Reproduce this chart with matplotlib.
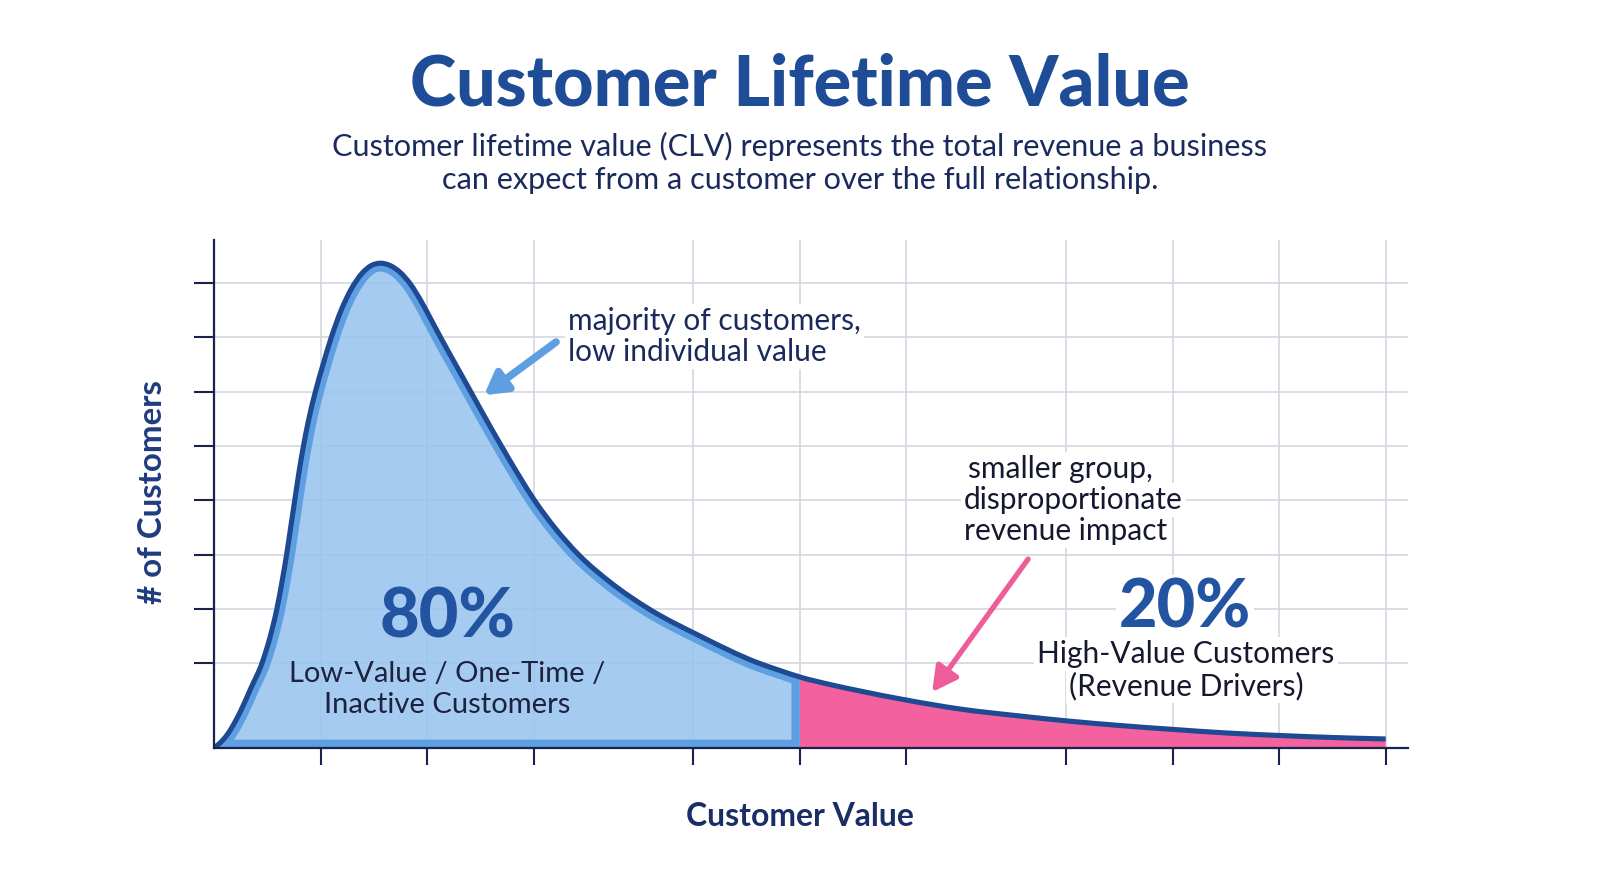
import matplotlib
matplotlib.use("Agg")
import matplotlib.pyplot as plt
from matplotlib.path import Path
from matplotlib.patches import PathPatch

# ---------------- data ----------------
value_x = [0.0, 0.056, 0.122, 0.197, 0.272, 0.347, 0.451, 0.529, 0.590, 0.638,
           0.681, 0.719, 0.757, 0.795, 0.838, 0.888, 0.951, 1.022, 1.099, 1.192,
           1.286, 1.390, 1.474, 1.559, 1.653, 1.746, 1.840, 1.944, 2.038, 2.131,
           2.272, 2.413, 2.559, 2.704, 2.854, 3.014, 3.202, 3.427, 3.718, 4.085,
           4.563, 5.099, 5.315, 5.5, 5.784, 6.066, 6.498, 7.005, 7.568, 8.019,
           8.507, 9.014, 9.512, 10.009, 10.507, 11.0]
customers = [0.0, 0.092, 0.239, 0.479, 0.773, 1.105, 1.565, 2.063, 2.560, 3.057,
             3.554, 4.052, 4.549, 5.046, 5.543, 6.041, 6.556, 7.053, 7.551, 8.057,
             8.447, 8.746, 8.886, 8.932, 8.890, 8.766, 8.558, 8.234, 7.893, 7.551,
             7.053, 6.556, 6.041, 5.543, 5.046, 4.549, 4.052, 3.554, 3.057, 2.560,
             2.063, 1.575, 1.427, 1.308, 1.169, 1.050, 0.884, 0.718, 0.589, 0.497,
             0.414, 0.341, 0.276, 0.230, 0.193, 0.166]
split_value = 5.5
x_ticks = [1, 2, 3, 4.5, 5.5, 6.5, 8, 9, 10, 11]
y_ticks = [1.565 + k for k in range(8)]

title = "Customer Lifetime Value"
subtitle = ["Customer lifetime value (CLV) represents the total revenue a business",
            "can expect from a customer over the full relationship."]
low_pct, low_lines = "80%", ["Low-Value / One-Time /", "Inactive Customers"]
high_pct, high_lines = "20%", ["High-Value Customers", "(Revenue Drivers)"]
note_low = ["majority of customers,", "low individual value"]
note_high = ["smaller group,", "disproportionate", "revenue impact"]

# ---------------- style ----------------
W, H = 1600, 893
FONT = "Lato"
NAVY = "#1b2a5c"
TITLE_BLUE = "#1f4c96"
DARK_LINE = "#1d4a92"
MID_BLUE = "#5e9fe2"
FILL_BLUE = "#9ac4ee"
PINK = "#f3629e"
AXIS = "#1a2350"
GRID = "#d2d3dc"

fig = plt.figure(figsize=(16, 8.93), dpi=100)
fig.patch.set_facecolor("white")
ax = fig.add_axes([214 / W, 1 - 748 / H, (1408 - 214) / W, (748 - 240) / H])
ax.set_xlim(0, 11.21)
ax.set_ylim(0, 9.36)

for s in ["top", "right"]:
    ax.spines[s].set_visible(False)
for s in ["left", "bottom"]:
    ax.spines[s].set_color(AXIS)
    ax.spines[s].set_linewidth(1.6)
    ax.spines[s].set_zorder(6)

ax.set_xticks(x_ticks)
ax.set_yticks(y_ticks)
ax.set_xticklabels([])
ax.set_yticklabels([])
ax.tick_params(axis="x", length=12, width=1.5, color=AXIS, direction="out")
ax.tick_params(axis="y", length=14.5, width=1.5, color=AXIS, direction="out")
ax.grid(True, color=GRID, linewidth=1.1, zorder=0)
ax.set_axisbelow(True)


# smooth Hermite drawing (cubic Bezier segments) through the read points
def smooth_segments(xs, ys):
    n = len(xs)
    h = [xs[i + 1] - xs[i] for i in range(n - 1)]
    d = [(ys[i + 1] - ys[i]) / h[i] for i in range(n - 1)]
    m = [d[0]] + [(h[i] * d[i - 1] + h[i - 1] * d[i]) / (h[i - 1] + h[i])
                  for i in range(1, n - 1)] + [d[-1]]
    verts = [(xs[0], ys[0])]
    for i in range(n - 1):
        verts += [(xs[i] + h[i] / 3, ys[i] + m[i] * h[i] / 3),
                  (xs[i + 1] - h[i] / 3, ys[i + 1] - m[i + 1] * h[i] / 3),
                  (xs[i + 1], ys[i + 1])]
    return verts


verts = smooth_segments(value_x, customers)
k = value_x.index(split_value)
cut = 1 + 3 * k

# blue region
bv = verts[:cut] + [(split_value, 0), (0, 0), (0, 0)]
bc = [Path.MOVETO] + [Path.CURVE4] * (cut - 1) + [Path.LINETO, Path.LINETO,
                                                   Path.CLOSEPOLY]
bpath = Path(bv, bc)
blue = PathPatch(bpath, facecolor=FILL_BLUE, alpha=0.88, edgecolor="none",
                 zorder=1, transform=ax.transData)
ax.add_patch(blue)
edge = PathPatch(bpath, facecolor="none", edgecolor=MID_BLUE, linewidth=12,
                 zorder=2, transform=ax.transData)
ax.add_patch(edge)
edge.set_clip_path(blue)

# pink region
pv = verts[cut - 1:] + [(value_x[-1], 0), (split_value, 0), (split_value, 0)]
pc = [Path.MOVETO] + [Path.CURVE4] * (len(verts) - cut) + [Path.LINETO,
                                                            Path.LINETO,
                                                            Path.CLOSEPOLY]
ax.add_patch(PathPatch(Path(pv, pc), facecolor=PINK, edgecolor="none",
                       zorder=1, transform=ax.transData))

# curve outline
lc = [Path.MOVETO] + [Path.CURVE4] * (len(verts) - 1)
ax.add_patch(PathPatch(Path(verts, lc), facecolor="none", edgecolor=DARK_LINE,
                       linewidth=3.7, capstyle="butt", joinstyle="round",
                       zorder=3, transform=ax.transData))

# ---------------- text helpers ----------------
renderer = fig.canvas.get_renderer()


def ftext(x, y, s, size, **kw):
    kw.setdefault("family", FONT)
    kw.setdefault("va", "baseline")
    return fig.text(x / W, 1 - y / H, s, fontsize=size, **kw)


def fit(t, target):
    bb = t.get_window_extent(renderer)
    w = bb.height if t.get_rotation() == 90 else bb.width
    t.set_fontsize(t.get_fontsize() * target / w)
    return t.get_fontsize()


t = ftext(800, 105, title, 40, ha="center", weight="black", color=TITLE_BLUE)
fit(t, 780)

t1 = ftext(800, 156, subtitle[0], 20, ha="center", color=NAVY)
fs = fit(t1, 940)
ftext(800, 189, subtitle[1], fs, ha="center", color=NAVY)

t = ftext(153, 492, "# of Customers", 20, ha="center", va="center", rotation=90,
          weight="bold", color="#1f3c80")
fit(t, 224)
t = ftext(800, 826, "Customer Value", 20, ha="center", weight="bold",
          color="#1b2d66")
fit(t, 228)

# 80% block
t = ftext(448, 638, low_pct, 40, ha="center", weight="black", color="#2354a1",
          zorder=7)
fit(t, 136)
t = ftext(447, 682, low_lines[0], 20, ha="center", color="#1c2240", zorder=7)
fs = fit(t, 316)
ftext(447, 713, low_lines[1], fs, ha="center", color="#1c2240", zorder=7)

# 20% block
box = dict(facecolor="white", edgecolor="none", pad=2)
t = ftext(1185, 628, high_pct, 40, ha="center", weight="black",
          color="#2354a1", bbox=box, zorder=7)
fit(t, 132)
t = ftext(1186, 663, high_lines[0], 20, ha="center", color="#15182e",
          bbox=box, zorder=7)
fs = fit(t, 298)
ftext(1186, 695, high_lines[1], fs, ha="center", color="#15182e", bbox=box,
      zorder=7)

# notes
t = ftext(568, 330, note_low[0], 18, ha="left", color=NAVY, bbox=box, zorder=7)
fs = fit(t, 292)
ftext(568, 361, note_low[1], fs, ha="left", color=NAVY, bbox=box, zorder=7)

t = ftext(964, 509, note_high[1], 18, ha="left", color="#15182e", bbox=box,
          zorder=7)
fs = fit(t, 218)
ftext(968, 478, note_high[0], fs, ha="left", color="#15182e", bbox=box,
      zorder=7)
ftext(964, 540, note_high[2], fs, ha="left", color="#15182e", bbox=box,
      zorder=7)

# arrows
ax.annotate("", xy=(2.535, 6.50), xytext=(3.211, 7.48),
            arrowprops=dict(arrowstyle="-|>,head_length=1.3,head_width=0.75",
                            color=MID_BLUE, lw=5.5, shrinkA=0, shrinkB=0),
            zorder=8)
ax.annotate("", xy=(6.742, 1.03), xytext=(7.643, 3.48),
            arrowprops=dict(arrowstyle="-|>,head_length=1.5,head_width=0.8",
                            color="#ee5c9a", lw=3.8, shrinkA=0, shrinkB=0),
            zorder=8)

fig.savefig("out.png", dpi=100, facecolor="white")
